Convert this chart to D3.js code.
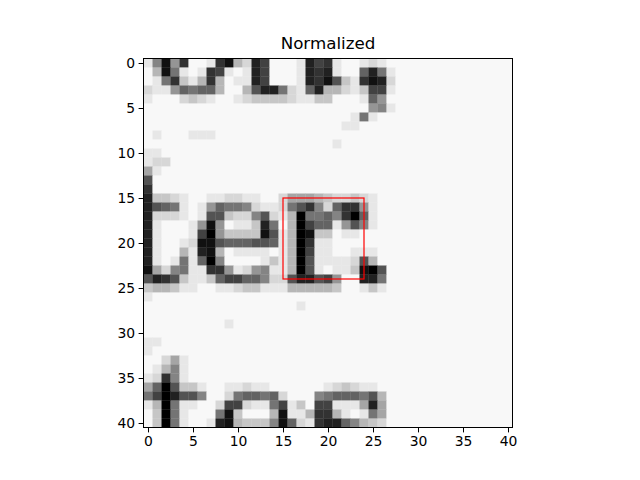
<!DOCTYPE html>
<html>
<head>
<meta charset="utf-8">
<script src="https://cdn.jsdelivr.net/npm/d3@7"></script>
<style>
  body { margin: 0; background: white; }
  text { font-family: "DejaVu Sans", sans-serif; }
</style>
</head>
<body>
<div id="chart"></div>
<script>
// pixel intensities, one hex digit per cell (0 = black, f = white), rows top to bottom
const pixelRows = [
    "e8193ffe31bd24fffe243effede",
    "fb17efe34efe24fffe232eff627e",
    "fe73ceb3bfee24fffe2315ce312d",
    "dee96766bffb5227de62bbdec44e",
    "efffdcdeffedccccdeeccfffe69",
    "fffffffffffffffffffffffff98e",
    "fffffffffffffffffffffffe7e",
    "ffffffffffffffffffffffeef",
    "fefffeeeffffffffffffffffffffffffff",
    "fffffffffffffffffffffeffff",
    "eef",
    "eddf",
    "aef",
    "5ff",
    "3ff",
    "2ccdeffeeddeeffdaaabcddcde",
    "2567efe96778deed7538d6339e",
    "2dddefe55cdd85deb07768306e",
    "2efffe919feec27fb0466e958e",
    "2efffe409cccc15eb01ccfeef",
    "2effed115666556eb03eeffff",
    "2effbe21bfeeeefeb04eeffeee",
    "2efe7e608ffffeceb05eeeed5bf",
    "1ad87ee339ed98eeb05efeec105f",
    "5235ceec644668dd522549ff227f",
    "cbbceeffeedcceeebbbbbcffece",
    "effffffffffffffffffffffffff",
    "fffffffffffffffffeffffff",
    "fffffffffffffffffffffffff",
    "fffffffffeffffffffffffff",
    "fffffffffffffffffffffff",
    "eeffffffffffffffffffff",
    "effffffffffffffffffffffff",
    "ffdaeffffffffffffff",
    "feb8eff",
    "ed38efff",
    "a605cceffeedeeffffffedcdeef",
    "7402558ffd76676dfff8766675bf",
    "eb07eeffd44dee74ecf44eeea2af",
    "fc07efff71cfffb1eeb33befe7af",
    "fc07effe21bccc816de32268bcdf"
];
const ticks = [0, 5, 10, 15, 20, 25, 30, 35, 40];
const boxCorner = [15, 15];
const boxEnd = [24, 24];
const title = "Normalized";

const n = 41;
const cells = [];
pixelRows.forEach((row, r) => {
    const full = row.padEnd(n, "f");
    for (let c = 0; c < n; c++) {
        cells.push({ r: r, c: c, v: parseInt(full[c], 16) });
    }
});

const config = {
    width: 640, height: 480,
    left: 143.5, top: 58.5, size: 369
};

const svg = d3.select("#chart").append("svg")
    .attr("width", config.width)
    .attr("height", config.height);

const x = d3.scaleLinear().domain([-0.5, n - 0.5]).range([config.left, config.left + config.size]);
const y = d3.scaleLinear().domain([-0.5, n - 0.5]).range([config.top, config.top + config.size]);
const gray = d3.scaleLinear().domain([0, 15]).range(["#000000", "#f8f8f8"]);

svg.append("g").selectAll("rect")
    .data(cells)
    .join("rect")
    .attr("x", d => x(d.c - 0.5))
    .attr("y", d => y(d.r - 0.5))
    .attr("width", x(1) - x(0) + 0.3)
    .attr("height", y(1) - y(0) + 0.3)
    .attr("fill", d => gray(d.v));

svg.append("rect")
    .attr("x", x(boxCorner[0]))
    .attr("y", y(boxCorner[1]))
    .attr("width", x(boxEnd[0]) - x(boxCorner[0]))
    .attr("height", y(boxEnd[1]) - y(boxCorner[1]))
    .attr("fill", "none")
    .attr("stroke", "red")
    .attr("stroke-width", 1.2);

svg.append("rect")
    .attr("x", config.left).attr("y", config.top)
    .attr("width", config.size).attr("height", config.size)
    .attr("fill", "none").attr("stroke", "black").attr("stroke-width", 1);

const axisX = svg.append("g")
    .attr("transform", `translate(0, ${config.top + config.size})`)
    .call(d3.axisBottom(x).tickValues(ticks).tickSize(4.9).tickPadding(3.5));
const axisY = svg.append("g")
    .attr("transform", `translate(${config.left}, 0)`)
    .call(d3.axisLeft(y).tickValues(ticks).tickSize(4.9).tickPadding(3.5));
[axisX, axisY].forEach(g => {
    g.select(".domain").remove();
    g.selectAll("text").attr("font-size", 13.9).attr("font-family", "DejaVu Sans").attr("fill", "black");
    g.selectAll("line").attr("stroke", "black");
});

svg.append("text")
    .attr("x", config.left + config.size / 2)
    .attr("y", config.top - 10)
    .attr("text-anchor", "middle")
    .attr("font-size", 16.7)
    .text(title);
</script>
</body>
</html>
